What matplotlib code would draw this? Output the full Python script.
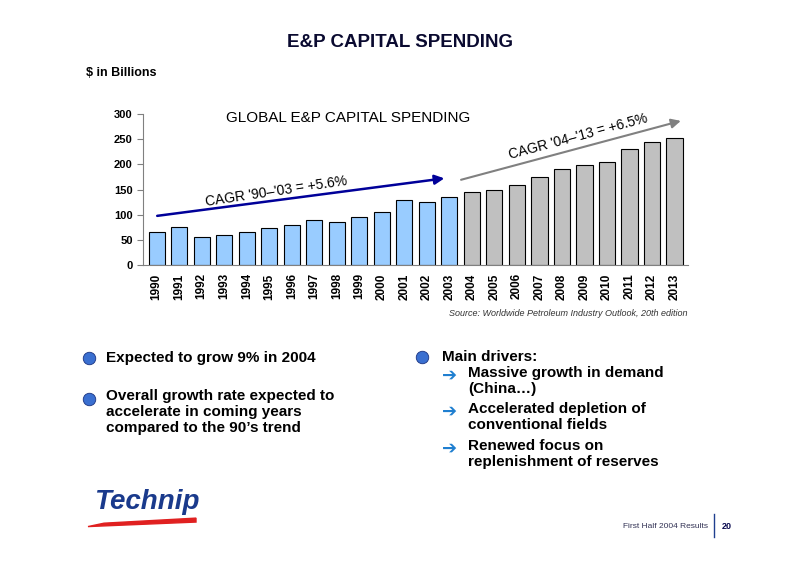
import matplotlib
matplotlib.use("Agg")
import matplotlib.pyplot as plt

plt.rcParams['font.family'] = ['Liberation Sans', 'DejaVu Sans']

years = [str(y) for y in range(1990, 2014)]
spending = [65, 75, 55, 60, 65, 73, 80, 90, 85, 95, 105, 130, 125, 135,
            145, 150, 160, 175, 190, 198, 205, 230, 245, 253]
yticks = [0, 50, 100, 150, 200, 250, 300]

fig = plt.figure(figsize=(8, 5.65), dpi=100)
fig.patch.set_facecolor('white')

fig.text(0.5, 0.925, "E&P CAPITAL SPENDING", ha='center', va='center',
         fontsize=13.5, fontweight='bold', color='#0a0a30')
fig.text(0.107, 0.871, "$ in Billions", ha='left', va='center', fontsize=9, fontweight='bold')

ax = fig.add_axes([0.179, 0.531, 0.681, 0.267])
colors = ['#99ccff' if int(y) <= 2003 else '#c0c0c0' for y in years]
x = list(range(len(years)))
ax.bar(x, spending, width=0.72, color=colors, edgecolor='black', linewidth=0.8)
ax.set_xlim(-0.6, len(years) - 0.4)
ax.set_ylim(0, 300)
ax.set_yticks(yticks)
ax.set_yticklabels([str(v) for v in yticks], fontsize=8, fontweight='bold')
ax.set_xticks(x)
ax.set_xticklabels(years, rotation=90, fontsize=8.5, fontweight='bold')
for s in ['top', 'right']:
    ax.spines[s].set_visible(False)
ax.spines['left'].set_color('#808080')
ax.spines['bottom'].set_color('#808080')
ax.tick_params(axis='y', length=4, color='#808080')
ax.tick_params(axis='x', length=0, pad=6)

ax.text(8.5, 292, "GLOBAL E&P CAPITAL SPENDING", ha='center', va='center', fontsize=11)
ax.annotate("", xy=(12.9, 173), xytext=(-0.1, 97),
            arrowprops=dict(arrowstyle='-|>', color='#000099', lw=1.8, mutation_scale=14),
            annotation_clip=False)
ax.text(5.3, 147, "CAGR '90\u2013'03 = +5.6%", ha='center', va='center', rotation=8.5, fontsize=10)
ax.annotate("", xy=(23.4, 288), xytext=(13.4, 168),
            arrowprops=dict(arrowstyle='-|>', color='#808080', lw=1.5, mutation_scale=14),
            annotation_clip=False)
ax.text(18.7, 255, "CAGR '04\u2013'13 = +6.5%", ha='center', va='center', rotation=15, fontsize=10)

fig.text(0.859, 0.446, "Source: Worldwide Petroleum Industry Outlook, 20th edition",
         ha='right', va='center', fontsize=6.5, style='italic', color='#333333')

def bullet(xf, yf):
    fig.add_artist(plt.Line2D([xf], [xf and yf], transform=fig.transFigure, marker='o',
                              markersize=9, markerfacecolor='#3a6fd0',
                              markeredgecolor='#1a3380', markeredgewidth=0.6, linestyle='none'))

bullet(0.111, 0.367)
fig.text(0.133, 0.367, "Expected to grow 9% in 2004", fontsize=11, fontweight='bold', va='center')
bullet(0.111, 0.294)
fig.text(0.133, 0.312, "Overall growth rate expected to\naccelerate in coming years\ncompared to the 90\u2019s trend",
         fontsize=11, fontweight='bold', va='top', linespacing=1.2)
bullet(0.527, 0.369)
fig.text(0.553, 0.369, "Main drivers:", fontsize=11, fontweight='bold', va='center')
items = [("Massive growth in demand\n(China\u2026)", 0.336),
         ("Accelerated depletion of\nconventional fields", 0.271),
         ("Renewed focus on\nreplenishment of reserves", 0.206)]
for t, yy in items:
    fig.text(0.553, yy, "\u2794", fontsize=13, color='#1f7fd0', va='center', family=['DejaVu Sans'])
    fig.text(0.585, yy + 0.017, t, fontsize=11, fontweight='bold', va='top', linespacing=1.2)

fig.text(0.118, 0.112, "Technip", fontsize=20, fontweight='bold', style='italic', color='#1a3a8c', va='center')
fig.add_artist(plt.Polygon([[0.11, 0.068], [0.245, 0.076], [0.245, 0.083], [0.13, 0.074]],
                           closed=True, transform=fig.transFigure, color='#e02020'))
fig.text(0.885, 0.069, "First Half 2004 Results", fontsize=6, ha='right', va='center', color='#333355')
fig.add_artist(plt.Line2D([0.893, 0.893], [0.05, 0.09], color='#1f3f8f', lw=1))
fig.text(0.902, 0.069, "20", fontsize=6.5, fontweight='bold', va='center', color='#0a0a50')

fig.savefig("out.png", dpi=100, facecolor='white')
